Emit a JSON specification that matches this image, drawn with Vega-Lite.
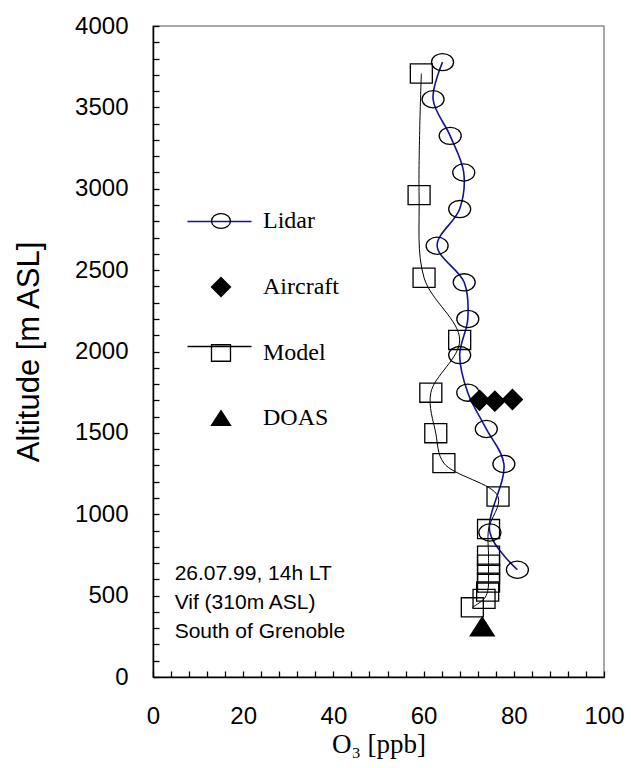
{
  "$schema": "https://vega.github.io/schema/vega-lite/v6.json",
  "width": 451,
  "height": 651,
  "autosize": {"type": "none"},
  "padding": {"left": 153, "top": 26, "right": 27, "bottom": 91},
  "background": "white",
  "config": {
    "font": "Liberation Sans",
    "view": {"stroke": "#8c8c8c", "strokeWidth": 1.5},
    "legend": {"symbolOpacity": 1},
    "axis": {
      "tickSize": -6,
      "labelFont": "Liberation Sans",
      "labelFontSize": 24,
      "labelColor": "black",
      "labelOverlap": false,
      "labelBound": false,
      "grid": false,
      "domainColor": "black",
      "domainWidth": 1.5,
      "tickColor": "black",
      "tickWidth": 1.3,
      "titleFontWeight": "normal",
      "titleColor": "black"
    },
    "axisX": {
      "labelPadding": 33,
      "labelFlush": false,
      "titleFont": "Liberation Serif",
      "titleFontSize": 27,
      "titlePadding": 3
    },
    "axisY": {
      "labelPadding": 31,
      "titleFont": "Liberation Sans",
      "titleFontSize": 31,
      "titlePadding": 29
    }
  },
  "data": {
    "values": [
      {"series": "Lidar", "o3": 64.2, "alt": 3778},
      {"series": "Lidar", "o3": 62.1, "alt": 3550},
      {"series": "Lidar", "o3": 65.9, "alt": 3325},
      {"series": "Lidar", "o3": 68.9, "alt": 3100},
      {"series": "Lidar", "o3": 68.0, "alt": 2875},
      {"series": "Lidar", "o3": 63.0, "alt": 2650},
      {"series": "Lidar", "o3": 69.0, "alt": 2425},
      {"series": "Lidar", "o3": 69.8, "alt": 2200},
      {"series": "Lidar", "o3": 68.0, "alt": 1978},
      {"series": "Lidar", "o3": 69.8, "alt": 1747},
      {"series": "Lidar", "o3": 73.9, "alt": 1524},
      {"series": "Lidar", "o3": 77.8, "alt": 1309},
      {"series": "Lidar", "o3": 74.7, "alt": 888},
      {"series": "Lidar", "o3": 80.8, "alt": 659},
      {"series": "Model", "o3": 59.5, "alt": 3708},
      {"series": "Model", "o3": 59.0, "alt": 2961},
      {"series": "Model", "o3": 60.1, "alt": 2453},
      {"series": "Model", "o3": 68.0, "alt": 2071},
      {"series": "Model", "o3": 61.6, "alt": 1747},
      {"series": "Model", "o3": 62.7, "alt": 1498},
      {"series": "Model", "o3": 64.5, "alt": 1314},
      {"series": "Model", "o3": 76.5, "alt": 1109},
      {"series": "Model", "o3": 74.4, "alt": 909},
      {"series": "Model", "o3": 74.4, "alt": 745},
      {"series": "Model", "o3": 74.4, "alt": 690},
      {"series": "Model", "o3": 74.4, "alt": 635},
      {"series": "Model", "o3": 74.4, "alt": 580},
      {"series": "Model", "o3": 74.2, "alt": 525},
      {"series": "Model", "o3": 73.4, "alt": 480},
      {"series": "Model", "o3": 70.8, "alt": 428},
      {"series": "Aircraft", "o3": 72.4, "alt": 1700},
      {"series": "Aircraft", "o3": 75.8, "alt": 1695},
      {"series": "Aircraft", "o3": 79.7, "alt": 1705},
      {"series": "DOAS", "o3": 73.0, "alt": 310}
    ]
  },
  "layer": [
    {
      "encoding": {
        "x": {
          "field": "o3",
          "type": "quantitative",
          "scale": {"domain": [0, 100], "nice": false, "zero": false},
          "axis": {
            "values": [0, 4, 8, 12, 16, 20, 24, 28, 32, 36, 40, 44, 48, 52, 56, 60, 64, 68, 72, 76, 80, 84, 88, 92, 96, 100],
            "format": "d",
            "labelExpr": "datum.value % 20 === 0 ? datum.label : ''",
            "title": "O₃ [ppb]"
          }
        },
        "y": {
          "field": "alt",
          "type": "quantitative",
          "scale": {"domain": [0, 4000], "nice": false, "zero": false},
          "axis": {
            "values": [0, 100, 200, 300, 400, 500, 600, 700, 800, 900, 1000, 1100, 1200, 1300, 1400, 1500, 1600, 1700, 1800, 1900, 2000, 2100, 2200, 2300, 2400, 2500, 2600, 2700, 2800, 2900, 3000, 3100, 3200, 3300, 3400, 3500, 3600, 3700, 3800, 3900, 4000],
            "format": "d",
            "labelExpr": "datum.value % 500 === 0 ? datum.label : ''",
            "title": "Altitude [m ASL]"
          }
        }
      },
      "layer": [
        {
          "transform": [{"filter": "datum.series === 'Model'"}],
          "mark": {"type": "line", "interpolate": "catmull-rom", "strokeWidth": 1},
          "encoding": {
            "order": {"field": "alt", "type": "quantitative"},
            "stroke": {
              "field": "series",
              "type": "nominal",
              "scale": {"domain": ["Lidar", "Model"], "range": ["#14148c", "black"]},
              "legend": {
                "orient": "none", "legendX": 56, "legendY": 185, "title": null,
                "symbolType": "M-3.37,0L3.37,0", "symbolSize": 361, "symbolStrokeWidth": 1.3,
                "symbolFillColor": "transparent",
                "labelOpacity": 0, "labelFontSize": 1, "labelOffset": 0, "rowPadding": 111, "padding": 0, "offset": 0
              }
            }
          }
        },
        {
          "transform": [{"filter": "datum.series === 'Lidar'"}],
          "mark": {"type": "line", "interpolate": "catmull-rom", "strokeWidth": 1.6},
          "encoding": {
            "order": {"field": "alt", "type": "quantitative"},
            "stroke": {
              "field": "series",
              "type": "nominal",
              "scale": {"domain": ["Lidar", "Model"], "range": ["#14148c", "black"]},
              "legend": {
                "orient": "none", "legendX": 56, "legendY": 185, "title": null,
                "symbolType": "M-3.37,0L3.37,0", "symbolSize": 361, "symbolStrokeWidth": 1.3,
                "symbolFillColor": "transparent",
                "labelOpacity": 0, "labelFontSize": 1, "labelOffset": 0, "rowPadding": 111, "padding": 0, "offset": 0
              }
            }
          }
        },
        {
          "encoding": {
            "shape": {
              "field": "series",
              "type": "nominal",
              "scale": {
                "domain": ["Lidar", "Aircraft", "Model", "DOAS"],
                "range": [
                  "M-1,0A1,0.78 0 1,1 1,0A1,0.78 0 1,1 -1,0Z",
                  "M0,-1L1,0L0,1L-1,0Z",
                  "M-1,-0.87L1,-0.87L1,0.87L-1,0.87Z",
                  "M0,-0.78L1,0.78L-1,0.78Z"
                ]
              },
              "legend": {
                "orient": "none", "legendX": 56, "legendY": 183, "title": null,
                "symbolSize": 361, "symbolStrokeColor": "black", "symbolStrokeWidth": 1.3,
                "labelFont": "Liberation Serif", "labelFontSize": 24, "labelColor": "black",
                "labelOffset": 30, "rowPadding": 41, "padding": 0, "offset": 0,
                "encode": {"symbols": {"update": {"stroke": {"value": "black"}, "strokeWidth": {"value": 1.3}}}}
              }
            },
            "fill": {
              "field": "series",
              "type": "nominal",
              "scale": {
                "domain": ["Lidar", "Aircraft", "Model", "DOAS"],
                "range": ["transparent", "black", "transparent", "black"]
              },
              "legend": {
                "orient": "none", "legendX": 56, "legendY": 183, "title": null,
                "symbolSize": 361, "symbolStrokeColor": "black", "symbolStrokeWidth": 1.3,
                "labelFont": "Liberation Serif", "labelFontSize": 24, "labelColor": "black",
                "labelOffset": 30, "rowPadding": 41, "padding": 0, "offset": 0,
                "encode": {"symbols": {"update": {"stroke": {"value": "black"}, "strokeWidth": {"value": 1.3}}}}
              }
            }
          },
          "layer": [
            {
              "transform": [{"filter": "datum.series === 'Lidar'"}],
              "mark": {"type": "point", "filled": true, "stroke": "black", "strokeWidth": 1.3, "opacity": 1, "size": 484}
            },
            {
              "transform": [{"filter": "datum.series === 'Model'"}],
              "mark": {"type": "point", "filled": true, "stroke": "black", "strokeWidth": 1.3, "opacity": 1, "size": 484}
            },
            {
              "transform": [{"filter": "datum.series === 'Aircraft'"}],
              "mark": {"type": "point", "filled": true, "stroke": "black", "strokeWidth": 1.3, "opacity": 1, "size": 400}
            },
            {
              "transform": [{"filter": "datum.series === 'DOAS'"}],
              "mark": {"type": "point", "filled": true, "stroke": "black", "strokeWidth": 1.3, "opacity": 1, "size": 576}
            }
          ]
        }
      ]
    },
    {
      "data": {"values": [{"note": ["26.07.99, 14h LT", "Vif (310m ASL)", "South of Grenoble"]}]},
      "mark": {
        "type": "text",
        "align": "left",
        "baseline": "top",
        "lineHeight": 29,
        "font": "Liberation Sans",
        "fontSize": 21,
        "fill": "black"
      },
      "encoding": {
        "text": {"field": "note", "type": "nominal"},
        "x": {
          "datum": 4.8,
          "type": "quantitative",
          "axis": {
            "values": [0, 4, 8, 12, 16, 20, 24, 28, 32, 36, 40, 44, 48, 52, 56, 60, 64, 68, 72, 76, 80, 84, 88, 92, 96, 100],
            "format": "d",
            "labelExpr": "datum.value % 20 === 0 ? datum.label : ''",
            "title": "O₃ [ppb]"
          }
        },
        "y": {
          "datum": 702,
          "type": "quantitative",
          "axis": {
            "values": [0, 100, 200, 300, 400, 500, 600, 700, 800, 900, 1000, 1100, 1200, 1300, 1400, 1500, 1600, 1700, 1800, 1900, 2000, 2100, 2200, 2300, 2400, 2500, 2600, 2700, 2800, 2900, 3000, 3100, 3200, 3300, 3400, 3500, 3600, 3700, 3800, 3900, 4000],
            "format": "d",
            "labelExpr": "datum.value % 500 === 0 ? datum.label : ''",
            "title": "Altitude [m ASL]"
          }
        }
      }
    }
  ]
}
